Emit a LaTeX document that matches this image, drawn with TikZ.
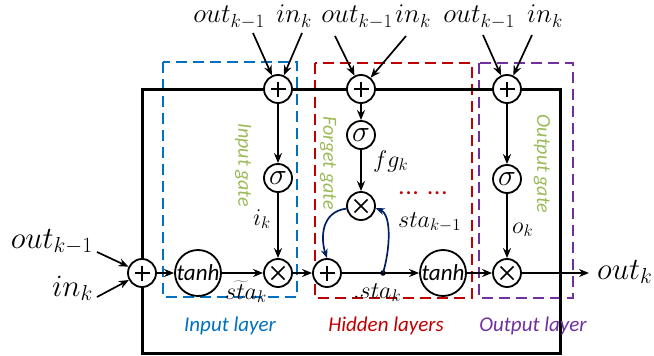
\RequirePackage{fix-cm}
\documentclass[tikz,border=0pt]{standalone}
\usepackage{fontspec}
\setmainfont{Carlito}
\usetikzlibrary{arrows.meta}
\definecolor{inblue}{RGB}{0,112,192}
\definecolor{hidred}{RGB}{192,0,0}
\definecolor{outpur}{RGB}{112,48,160}
\definecolor{gategreen}{RGB}{155,187,89}
\definecolor{navyc}{RGB}{0,32,96}
\begin{document}
\begin{tikzpicture}[x=1pt,y=-1pt,
  opc/.style={circle, draw, line width=1.8pt, minimum size=28pt, inner sep=0pt, fill=white},
  plusop/.style={opc, path picture={
      \draw[line width=1.7pt] ([xshift=-7.5pt]path picture bounding box.center) -- ([xshift=7.5pt]path picture bounding box.center)
                              ([yshift=-7.5pt]path picture bounding box.center) -- ([yshift=7.5pt]path picture bounding box.center);}},
  timesop/.style={opc, path picture={
      \draw[line width=1.7pt] ([shift={(-6.5pt,-6.5pt)}]path picture bounding box.center) -- ([shift={(6.5pt,6.5pt)}]path picture bounding box.center)
                              ([shift={(-6.5pt,6.5pt)}]path picture bounding box.center) -- ([shift={(6.5pt,-6.5pt)}]path picture bounding box.center);}},
  sigop/.style={opc, font=\fontsize{30}{32}\selectfont},
  tanhop/.style={circle, draw, line width=1.8pt, minimum size=46pt, inner sep=0pt, fill=white, font=\itshape\fontsize{23}{26}\selectfont},
  conn/.style={line width=1.7pt, -{Stealth[length=10pt,width=8pt]}},
  plainline/.style={line width=1.7pt},
  curvec/.style={line width=1.7pt, navyc, -{Stealth[length=9pt,width=7pt]}},
  framel/.style={line width=3pt},
  lab/.style={inner sep=0pt, font=\fontsize{27}{30}\selectfont},
  sidelab/.style={inner sep=0pt, font=\fontsize{31}{34}\selectfont},
  ilab/.style={inner sep=0pt, font=\fontsize{24}{28}\selectfont},
  layerlab/.style={inner sep=0pt, font=\itshape\fontsize{21}{24}\selectfont},
  gatelab/.style={inner sep=0pt, text=gategreen, rotate=-90, font=\itshape\fontsize{20}{24}\selectfont},
  dotlab/.style={inner sep=0pt, text=hidred, text height=5pt, text depth=0pt, font=\itshape\bfseries\fontsize{20}{22}\selectfont},
  dbox/.style={line width=2pt, dash pattern=on 11pt off 6pt}
]
\useasboundingbox (0,0) rectangle (654,356);

% dashed layer boxes
\draw[dbox, inblue] (163,62) rectangle (297,297);
\draw[dbox, hidred] (315,63) rectangle (472,298);
\draw[dbox, outpur] (479,63) rectangle (573,298);

% outer frame
\draw[framel] (142,89) rectangle (560,353);

% operator nodes
\node[plusop] (p0) at (142,273) {};
\node[tanhop] (th1) at (198,273) {tanh};
\node[timesop] (m1) at (278,273) {};
\node[plusop] (p1) at (278,89) {};
\node[sigop] (s1) at (278,178) {$\sigma$};
\node[plusop] (p2) at (361,89) {};
\node[sigop] (s2) at (361,135) {$\sigma$};
\node[timesop] (m2) at (361,206) {};
\node[plusop] (p3) at (327,273) {};
\coordinate (dot) at (383,273);
\fill (dot) circle (2.8pt);
\node[tanhop] (th2) at (443,273) {tanh};
\node[plusop] (p4) at (507,89) {};
\node[sigop] (s3) at (507,179) {$\sigma$};
\node[timesop] (m3) at (507,273) {};

% top labels
\node[lab, anchor=base] (t1o) at (229,23) {$out_{k-1}$};
\node[lab, anchor=base] (t1i) at (294,23) {$in_k$};
\node[lab, anchor=base] (t2o) at (357,23) {$out_{k-1}$};
\node[lab, anchor=base] (t2i) at (413,23) {$in_k$};
\node[lab, anchor=base] (t3o) at (479,23) {$out_{k-1}$};
\node[lab, anchor=base] (t3i) at (545,23) {$in_k$};
\coordinate (a1o) at (253,33);
\coordinate (a1i) at (302,33);
\coordinate (a2o) at (335,36);
\coordinate (a2i) at (406,36);
\coordinate (a3o) at (483,35);
\coordinate (a3i) at (532,35);
\draw[conn] (a1o) -- (p1);
\draw[conn] (a1i) -- (p1);
\draw[conn] (a2o) -- (p2);
\draw[conn] (a2i) -- (p2);
\draw[conn] (a3o) -- (p4);
\draw[conn] (a3i) -- (p4);

% side labels
\node[sidelab, anchor=base east] (lo) at (93,248) {$out_{k-1}$};
\node[sidelab, anchor=base east] (li) at (93,296) {$in_k$};
\node[sidelab, anchor=base west] (ro) at (597,279) {$out_k$};
\coordinate (alo) at (97,252);
\coordinate (ali) at (97,297);
\coordinate (aro) at (589,273);
\draw[conn] (alo) -- (p0);
\draw[conn] (ali) -- (p0);

% main horizontal chain
\draw[conn] (p0) -- (th1);
\draw[conn] (th1) -- (m1);
\draw[conn] (m1) -- (p3);
\draw[plainline] (p3) -- (dot);
\draw[conn] (dot) -- (th2);
\draw[conn] (th2) -- (m3);
\draw[conn] (m3) -- (aro);

% gate verticals
\draw[conn] (p1) -- (s1);
\draw[conn] (s1) -- (m1);
\draw[conn] (p2) -- (s2);
\draw[conn] (s2) -- (m2);
\draw[conn] (p4) -- (s3);
\draw[conn] (s3) -- (m3);

% recurrent curves
\draw[curvec] (m2.190) .. controls (320,212) and (321,240) .. (p3.north);
\draw[curvec] (dot) .. controls (390,250) and (392,215) .. (m2.-8);

% inner labels
\node[ilab, anchor=base west] (ik) at (253,225) {$i_k$};
\node[ilab, anchor=base west] (stt) at (225,299) {$\widetilde{sta}_k$};
\node[ilab, anchor=base west] (fg) at (373,167) {$fg_k$};
\node[dotlab, anchor=base west] (dd) at (399,194) {.\kern1.8pt.\kern1.8pt.\hspace{9pt}.\kern1.8pt.\kern1.8pt.};
\node[ilab, anchor=base west] (skm) at (398,227) {$sta_{k-1}$};
\node[ilab, anchor=base west] (ok) at (512,233) {$o_k$};
\node[ilab, anchor=base west] (sk) at (353,298) {$.sta_k$};

% layer labels
\node[layerlab, text=inblue, anchor=base] (ll1) at (230,331) {Input layer};
\node[layerlab, text=hidred, anchor=base] (ll2) at (386,331) {Hidden layers};
\node[layerlab, text=outpur, anchor=base] (ll3) at (533,331) {Output layer};

% gate labels
\node[gatelab] (g1) at (243,165) {Input gate};
\node[gatelab] (g2) at (328,163) {Forget gate};
\node[gatelab] (g3) at (542,164) {Output gate};
\end{tikzpicture}
\end{document}
